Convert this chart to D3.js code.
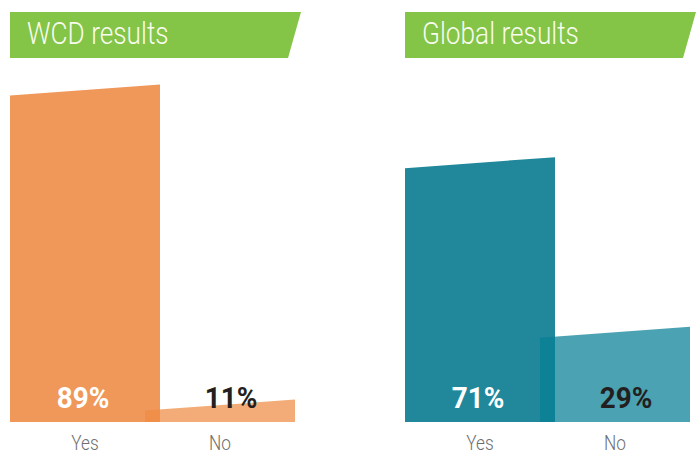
<!DOCTYPE html>
<html>
<head>
<meta charset="utf-8">
<script src="https://cdn.jsdelivr.net/npm/d3@7"></script>
<style>
  html, body { margin: 0; padding: 0; background: #fff; }
  svg { display: block; }
  text { font-family: Roboto, "Liberation Sans", sans-serif; }
</style>
</head>
<body>
<svg id="chart" width="699" height="455"></svg>
<script>
// Survey answers, one panel per population
const panelTitles = ["WCD results", "Global results"];
const categories = ["Yes", "No"];
const wcdValues = [89, 11];
const globalValues = [71, 29];
const valueLabels = [["89%", "11%"], ["71%", "29%"]];

const palettes = [
  { main: "#f0985a", second: "#ee8c44" },
  { main: "#21889b", second: "#067e94" }
];

const W = 699, H = 455;
const svg = d3.select("#chart");

const baseline = 422;
const panelLeft = [10, 405];
const panelWidth = 285;
const slant = 11;          // how much lower the left corner of a bar top sits
const bannerTop = 12, bannerBottom = 58;

// Bars overlap slightly: negative inner padding on the band scale
const x = d3.scaleBand().domain(categories).range([0, panelWidth])
  .paddingInner(-1 / 9).paddingOuter(0);
const y = d3.scaleLinear().domain([0, 100]).range([444, 40]);

// Condensed text: scale glyphs horizontally
function condText(g, tx, ty, str, opts) {
  const t = g.append("g")
    .attr("transform", `translate(${tx},${ty}) scale(${opts.k},1)`)
    .append("text")
    .attr("x", 0).attr("y", 0)
    .attr("text-anchor", opts.anchor || "start")
    .attr("font-size", opts.size)
    .attr("font-weight", opts.weight || 400)
    .attr("fill", opts.fill)
    .text(str);
  return t;
}

[wcdValues, globalValues].forEach((values, p) => {
  const g = svg.append("g").attr("transform", `translate(${panelLeft[p]},0)`);
  const pal = palettes[p];

  // Green title banner with slanted right edge
  g.append("path")
    .attr("d", `M0,${bannerTop} L${panelWidth + 6},${bannerTop} L${panelWidth - 7},${bannerBottom} L0,${bannerBottom} Z`)
    .attr("fill", "#84c447");
  condText(g, 17, 44, panelTitles[p], { k: 0.82, size: 32, weight: 300, fill: "#f7fcef" });

  // Bars with slanted tops
  values.forEach((v, i) => {
    const x0 = x(categories[i]), x1 = x0 + x.bandwidth();
    const top = y(v);
    g.append("path")
      .attr("d", `M${x0},${baseline} L${x0},${top + slant} L${x1},${top} L${x1},${baseline} Z`)
      .attr("fill", i === 0 ? pal.main : pal.second)
      .attr("fill-opacity", i === 0 ? 1 : 0.72);
  });

  // Value labels inside the bars
  values.forEach((v, i) => {
    const cx = x(categories[i]) + x.bandwidth() / 2 + (i === 0 ? -2 : 11);
    condText(g, cx, 408, valueLabels[p][i], {
      k: 0.93, size: 30, weight: 700, anchor: "middle",
      fill: i === 0 ? "#ffffff" : "#231f20"
    });
  });

  // Category labels below the baseline
  categories.forEach((c) => {
    const cx = x(c) + x.bandwidth() / 2;
    condText(g, cx, 450, c, { k: 0.82, size: 21, weight: 300, anchor: "middle", fill: "#6d6e70" });
  });
});
</script>
</body>
</html>
